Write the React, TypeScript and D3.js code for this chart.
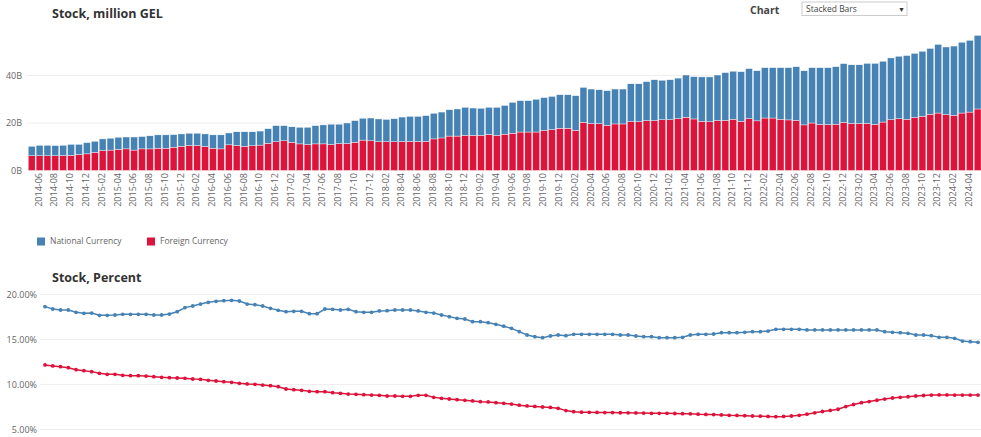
import React from "react";
import * as d3 from "d3";

// ---------- DATA ----------
const START_MONTH = new Date(2014, 4, 1); // 2014-05
const END_MONTH = new Date(2024, 5, 1); // exclusive -> last 2024-05
const CATEGORIES: string[] = d3.timeMonth.range(START_MONTH, END_MONTH).map(d3.timeFormat("%Y-%m"));
const TICK_LABELS: string[] = CATEGORIES.filter((c) => +c.slice(5) % 2 === 0);

// Stock, billion GEL (stacked)
const FOREIGN_STOCK = [
  6.2, 6.2, 6.2, 6.2, 6.3, 6.4, 6.7, 7.0, 7.6, 8.4, 8.6, 8.9, 9.1, 8.6, 9.1, 9.1, 9.4, 9.4, 9.8, 10.2,
  10.5, 10.5, 10.1, 9.4, 9.1, 10.8, 10.5, 10.2, 10.4, 10.7, 11.4, 12.1, 12.5, 11.9, 11.2, 10.9, 11.2, 11.2, 10.9, 11.3,
  11.3, 11.9, 12.8, 12.5, 12.1, 12.1, 12.1, 12.2, 12.2, 12.2, 12.2, 13.3, 13.7, 14.5, 14.5, 14.8, 14.8, 14.8, 15.2, 14.8,
  15.3, 15.7, 16.2, 16.2, 16.2, 16.8, 17.2, 17.8, 17.8, 16.9, 20.3, 19.7, 19.7, 19.0, 19.6, 19.6, 20.6, 20.5, 21.0, 21.0,
  21.4, 21.4, 21.8, 22.4, 21.7, 20.7, 20.5, 21.0, 21.1, 21.6, 20.7, 21.8, 20.9, 22.1, 22.1, 21.6, 21.3, 21.1, 19.2, 20.0,
  19.4, 19.3, 19.5, 20.3, 19.8, 19.8, 19.8, 19.4, 20.4, 21.4, 21.8, 21.6, 22.3, 22.8, 23.7, 24.2, 23.5, 23.2, 24.2, 24.6,
  25.9,
];
const NATIONAL_STOCK = [
  4.0, 4.4, 4.4, 4.3, 4.3, 4.6, 4.3, 4.7, 4.7, 4.9, 5.0, 5.1, 5.0, 5.5, 5.2, 5.5, 5.6, 5.6, 5.3, 5.2,
  5.2, 5.2, 5.3, 5.6, 5.9, 5.0, 5.8, 6.1, 5.9, 5.9, 6.2, 6.8, 6.4, 6.5, 7.0, 7.3, 7.7, 8.0, 8.6, 8.2,
  8.7, 9.1, 9.2, 9.6, 9.6, 9.4, 9.7, 10.3, 10.6, 10.6, 10.9, 10.8, 10.9, 11.1, 11.4, 11.8, 11.5, 11.4, 11.4, 11.8,
  12.1, 13.0, 13.2, 13.2, 13.8, 13.9, 14.0, 14.1, 14.1, 14.6, 14.7, 14.6, 14.3, 14.6, 14.7, 14.7, 15.9, 16.0, 16.4, 17.2,
  16.6, 16.8, 17.1, 17.8, 17.8, 18.7, 18.9, 19.2, 20.1, 20.2, 20.9, 21.1, 21.1, 21.2, 21.2, 21.7, 22.0, 22.6, 22.8, 23.3,
  23.9, 24.0, 24.2, 24.7, 24.7, 24.7, 25.3, 25.7, 25.6, 26.0, 26.3, 26.8, 27.0, 27.4, 27.7, 28.9, 28.5, 29.2, 29.8, 30.2,
  31.0,
];

// Stock, percent
const NATIONAL_PCT = [
  18.65, 18.39, 18.28, 18.28, 18.02, 17.91, 17.94, 17.69, 17.69, 17.72, 17.8, 17.8, 17.8, 17.8, 17.72, 17.72, 17.83, 18.09, 18.54, 18.72,
  18.94, 19.13, 19.24, 19.31, 19.35, 19.28, 18.94, 18.87, 18.72, 18.46, 18.24, 18.09, 18.13, 18.13, 17.87, 17.87, 18.39, 18.35, 18.28, 18.35,
  18.09, 18.02, 18.02, 18.17, 18.2, 18.28, 18.28, 18.28, 18.17, 18.02, 17.94, 17.72, 17.54, 17.35, 17.28, 16.98, 16.98, 16.87, 16.69, 16.48,
  16.24, 15.87, 15.5, 15.31, 15.2, 15.39, 15.5, 15.43, 15.57, 15.57, 15.57, 15.57, 15.57, 15.57, 15.5, 15.5, 15.39, 15.31, 15.31, 15.2,
  15.2, 15.2, 15.24, 15.5, 15.57, 15.57, 15.61, 15.76, 15.76, 15.76, 15.8, 15.87, 15.87, 15.94, 16.13, 16.13, 16.13, 16.13, 16.06, 16.06,
  16.06, 16.06, 16.06, 16.06, 16.06, 16.06, 16.06, 16.06, 15.87, 15.8, 15.76, 15.69, 15.5, 15.5, 15.43, 15.24, 15.24, 15.13, 14.83, 14.76,
  14.69,
];
const FOREIGN_PCT = [
  12.17, 12.06, 11.98, 11.87, 11.65, 11.54, 11.43, 11.24, 11.13, 11.13, 11.02, 10.98, 10.98, 10.94, 10.87, 10.8, 10.76, 10.72, 10.69, 10.61,
  10.57, 10.46, 10.39, 10.31, 10.24, 10.13, 10.06, 10.02, 9.94, 9.87, 9.76, 9.5, 9.43, 9.35, 9.24, 9.2, 9.2, 9.09, 9.02, 8.94,
  8.91, 8.87, 8.83, 8.8, 8.72, 8.72, 8.69, 8.69, 8.8, 8.8, 8.57, 8.46, 8.39, 8.31, 8.24, 8.17, 8.09, 8.06, 7.98, 7.91,
  7.83, 7.7, 7.62, 7.56, 7.5, 7.45, 7.35, 7.1, 6.98, 6.93, 6.91, 6.9, 6.88, 6.88, 6.86, 6.85, 6.84, 6.82, 6.8, 6.8,
  6.8, 6.78, 6.76, 6.74, 6.7, 6.68, 6.66, 6.62, 6.58, 6.56, 6.54, 6.5, 6.48, 6.45, 6.43, 6.45, 6.5, 6.58, 6.7, 6.85,
  7.0, 7.12, 7.25, 7.55, 7.78, 7.98, 8.1, 8.25, 8.38, 8.5, 8.58, 8.64, 8.72, 8.78, 8.82, 8.84, 8.84, 8.82, 8.82, 8.82,
  8.82,
];

const TOP_TICKS = [0, 20, 40];
const BOTTOM_TICKS = [5, 10, 15, 20];
const SERIES_NAMES = ["National Currency", "Foreign Currency"];

// ---------- STYLE ----------
const W = 981;
const H = 437;
const BLUE = "#4682B4";
const RED = "#DC143C";
const FONT = "'Open Sans', 'Noto Sans', sans-serif";
const TICK_COLOR = "#666";

export default function App() {
  // top chart
  const xTop = d3.scaleBand<string>().domain(CATEGORIES).range([27.9, 981.4]).paddingInner(0.12).paddingOuter(0.04);
  const yTop = d3.scaleLinear().domain([0, 60]).range([170.5, 28]);
  const rows = CATEGORIES.map((c, i) => ({ cat: c, foreign: FOREIGN_STOCK[i], national: NATIONAL_STOCK[i] }));
  const stacked = d3.stack<any>().keys(["foreign", "national"])(rows);
  const colors: Record<string, string> = { foreign: RED, national: BLUE };

  // bottom chart
  const xBot = d3.scalePoint<string>().domain(CATEGORIES).range([45, 978]);
  const yBot = d3.scaleLinear().domain([5, 20]).range([429.5, 294.5]);
  const line = d3
    .line<number>()
    .x((_, i) => xBot(CATEGORIES[i]) as number)
    .y((v) => yBot(v));

  const bw = xTop.bandwidth();

  return (
    <svg width={W} height={H} style={{ position: "absolute", left: 0, top: 0, background: "#fff" }} fontFamily={FONT}>
      {/* Titles */}
      <text x={52} y={17.5} fontSize={12.5} fontWeight={700} fill="#333">
        Stock, million GEL
      </text>
      <text x={750} y={13.5} fontSize={10.5} fontWeight={700} fill="#444">
        Chart
      </text>
      <rect x={802} y={2} width={105} height={13.5} fill="#fff" stroke="#ccc" strokeWidth={1} />
      <text x={806} y={11.8} fontSize={8.5} fill="#444">
        Stacked Bars
      </text>
      <text x={898} y={11.5} fontSize={7} fill="#333">
        ▼
      </text>

      {/* top grid */}
      {TOP_TICKS.map((t) => (
        <g key={"tg" + t}>
          {t > 0 && <line x1={27} x2={981} y1={yTop(t)} y2={yTop(t)} stroke="#eee" strokeWidth={1} />}
          <text x={22} y={yTop(t)} dy="0.35em" textAnchor="end" fontSize={9} fill={TICK_COLOR}>
            {t + "B"}
          </text>
        </g>
      ))}

      {/* bars */}
      {stacked.map((s) => (
        <g key={s.key} fill={colors[s.key]}>
          {s.map((d, i) => (
            <rect
              key={i}
              x={xTop(CATEGORIES[i])}
              y={yTop(d[1])}
              width={bw}
              height={yTop(d[0]) - yTop(d[1])}
              stroke="#fff"
              strokeWidth={0.4}
            />
          ))}
        </g>
      ))}

      {/* x tick labels */}
      {TICK_LABELS.map((c) => {
        const x = (xTop(c) as number) + bw / 2 - 1;
        const y = 173;
        return (
          <text
            key={c}
            x={x}
            y={y}
            transform={`rotate(-90 ${x} ${y})`}
            textAnchor="end"
            dy="0.35em"
            fontSize={9}
            fill={TICK_COLOR}
          >
            {c}
          </text>
        );
      })}

      {/* legend */}
      <rect x={37} y={237.5} width={8} height={8} fill={BLUE} />
      <text x={50} y={241.5} dy="0.35em" fontSize={8.5} fill={TICK_COLOR}>
        {SERIES_NAMES[0]}
      </text>
      <rect x={147} y={237.5} width={8} height={8} fill={RED} />
      <text x={160} y={241.5} dy="0.35em" fontSize={8.5} fill={TICK_COLOR}>
        {SERIES_NAMES[1]}
      </text>

      {/* bottom chart */}
      <text x={52} y={281.5} fontSize={12.5} fontWeight={700} fill="#333">
        Stock, Percent
      </text>
      {BOTTOM_TICKS.map((t) => (
        <g key={"bg" + t}>
          <line x1={40} x2={981} y1={yBot(t)} y2={yBot(t)} stroke="#eee" strokeWidth={1} />
          <text x={37} y={yBot(t)} dy="0.35em" textAnchor="end" fontSize={9} fill={TICK_COLOR}>
            {t.toFixed(2) + "%"}
          </text>
        </g>
      ))}
      {[
        { vals: NATIONAL_PCT, color: BLUE },
        { vals: FOREIGN_PCT, color: RED },
      ].map((s, si) => (
        <g key={"ln" + si}>
          <path d={line(s.vals) as string} fill="none" stroke={s.color} strokeWidth={1.5} />
          {s.vals.map((v, i) => (
            <circle key={i} cx={xBot(CATEGORIES[i]) as number} cy={yBot(v)} r={1.9} fill={s.color} />
          ))}
        </g>
      ))}
    </svg>
  );
}
